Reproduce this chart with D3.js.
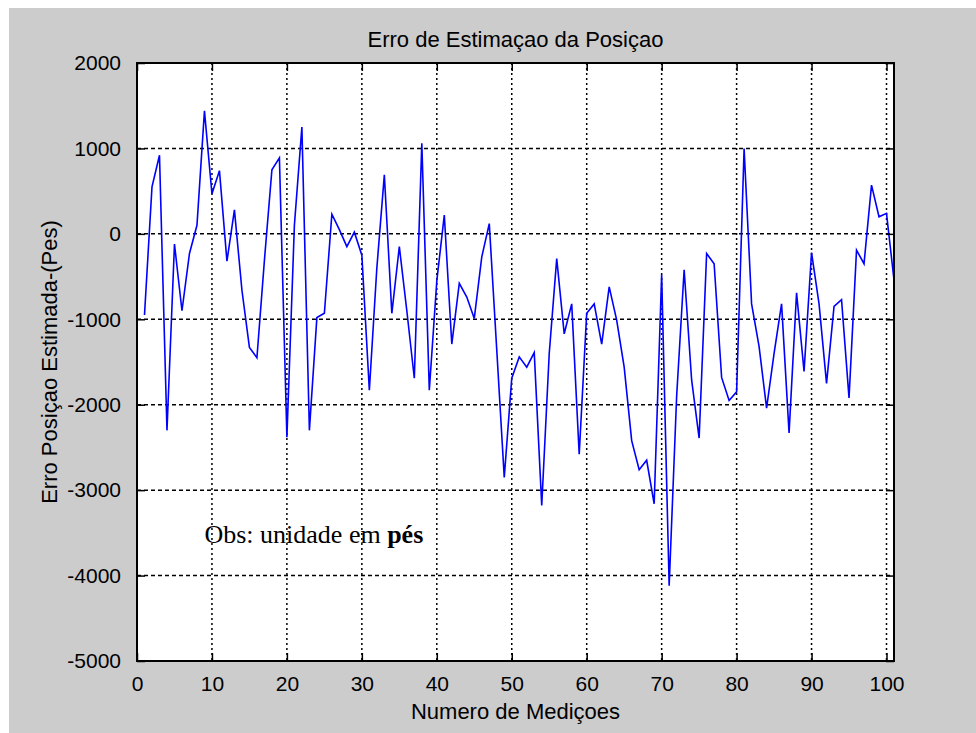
<!DOCTYPE html>
<html lang="pt">
<head>
    <meta charset="UTF-8">
    <title>Erro de Estimaçao da Posiçao</title>
    <script src="https://d3js.org/d3.v7.min.js"></script>
    <style>
        body { margin: 0; background: #fff; }
        text {
            font-family: 'Liberation Sans', Arial, sans-serif;
            font-size: 22px;
            fill: #000;
        }
        .tick text { font-size: 21px; }
        .obs { font-family: 'Liberation Serif', 'Times New Roman', serif; font-size: 26px; }
    </style>
</head>
<body>

<script>
    const width  = 976;
    const height = 733;

    // axes box in pixels
    const boxLeft = 137, boxRight = 894, boxTop = 63, boxBottom = 661;

    const title  = "Erro de Estimaçao da Posiçao";
    const xLabel = "Numero de Mediçoes";
    const yLabel = "Erro Posiçao Estimada-(Pes)";

    const xTicks = [0, 10, 20, 30, 40, 50, 60, 70, 80, 90, 100];
    const yTicks = [-5000, -4000, -3000, -2000, -1000, 0, 1000, 2000];

    // erro de estimacao, medicoes 1..101
    const erro = [
        -950, 550, 920, -2300, -120, -900, -230, 100, 1440, 470,
        740, -320, 280, -660, -1330, -1450, -310, 750, 890, -2380,
        100, 1250, -2300, -980, -930, 230, 50, -150, 20, -250,
        -1830, -400, 690, -930, -150, -900, -1690, 1060, -1830, -550,
        220, -1290, -580, -740, -990, -270, 120, -1360, -2850, -1690,
        -1440, -1560, -1390, -3180, -1400, -290, -1170, -820, -2580, -930,
        -820, -1290, -620, -1010, -1560, -2420, -2760, -2650, -3160, -480,
        -4120, -1900, -420, -1710, -2390, -230, -350, -1680, -1950, -1850,
        1000, -820, -1320, -2040, -1400, -820, -2330, -690, -1610, -220,
        -820, -1750, -850, -770, -1920, -190, -350, 570, 200, 240,
        -540
    ];

    const x = d3.scaleLinear().domain([0, 101]).range([boxLeft, boxRight]);
    const y = d3.scaleLinear().domain([-5000, 2000]).range([boxBottom, boxTop]);

    const svg = d3.select("body")
                  .append("svg").attr("width", width).attr("height", height);

    // figure background
    svg.append("rect")
       .attr("x", 9).attr("y", 8)
       .attr("width", width - 9).attr("height", height - 8)
       .attr("fill", "#cccccc");

    svg.append("rect")
       .attr("x", boxLeft).attr("y", boxTop)
       .attr("width", boxRight - boxLeft).attr("height", boxBottom - boxTop)
       .attr("fill", "#fff");

    // grid
    const grid = svg.append("g")
                    .attr("stroke", "#000")
                    .attr("stroke-width", 1.5);

    grid.selectAll(".gx").data(xTicks.filter(d => d > 0))
        .enter().append("line")
        .attr("stroke-dasharray", "2,3")
        .attr("x1", d => x(d)).attr("x2", d => x(d))
        .attr("y1", boxTop).attr("y2", boxBottom);

    grid.selectAll(".gy").data(yTicks.filter(d => d > -5000 && d < 2000))
        .enter().append("line")
        .attr("stroke-dasharray", "4,3")
        .attr("x1", boxLeft).attr("x2", boxRight)
        .attr("y1", d => y(d)).attr("y2", d => y(d));

    // data line
    const line = d3.line()
                   .x((d, i) => x(i + 1))
                   .y(d => y(d));

    svg.append("path").datum(erro)
       .attr("d", line)
       .attr("fill", "none")
       .attr("stroke", "#0000ff")
       .attr("stroke-width", 1.6);

    // axes with inward ticks on all sides
    const tickLen = 8;
    const fmt = d => String(d);
    const gB = svg.append("g").attr("transform", "translate(0," + boxBottom + ")")
                  .call(d3.axisBottom(x).tickValues(xTicks).tickFormat(fmt).tickSize(-tickLen).tickPadding(tickLen + 3));
    const gT = svg.append("g").attr("transform", "translate(0," + boxTop + ")")
                  .call(d3.axisTop(x).tickValues(xTicks).tickSize(-tickLen).tickFormat(""));
    const gL = svg.append("g").attr("transform", "translate(" + boxLeft + ",0)")
                  .call(d3.axisLeft(y).tickValues(yTicks).tickFormat(fmt).tickSize(-tickLen).tickPadding(tickLen + 8));
    const gR = svg.append("g").attr("transform", "translate(" + boxRight + ",0)")
                  .call(d3.axisRight(y).tickValues(yTicks).tickSize(-tickLen).tickFormat(""));

    [gB, gT, gL, gR].forEach(g => {
        g.select(".domain").remove();
        g.selectAll("line").attr("stroke", "#000").attr("stroke-width", 1.5);
        g.attr("font-family", null).attr("font-size", null);
    });
    gB.selectAll("text").attr("dy", "0.9em");

    svg.append("rect")
       .attr("x", boxLeft).attr("y", boxTop)
       .attr("width", boxRight - boxLeft).attr("height", boxBottom - boxTop)
       .attr("fill", "none")
       .attr("stroke", "#000")
       .attr("stroke-width", 2);

    // labels
    svg.append("text")
       .attr("x", (boxLeft + boxRight) / 2).attr("y", 47)
       .attr("text-anchor", "middle")
       .text(title);

    svg.append("text")
       .attr("x", (boxLeft + boxRight) / 2).attr("y", 719)
       .attr("text-anchor", "middle")
       .text(xLabel);

    svg.append("text")
       .attr("transform", "translate(57," + (boxTop + boxBottom) / 2 + ") rotate(-90)")
       .attr("text-anchor", "middle")
       .text(yLabel);

    const obs = svg.append("text")
                   .attr("class", "obs")
                   .attr("x", x(9.0)).attr("y", y(-3620));
    obs.append("tspan").text("Obs: unidade em ");
    obs.append("tspan").attr("font-weight", "bold").text("pés");

</script>

</body>
</html>
